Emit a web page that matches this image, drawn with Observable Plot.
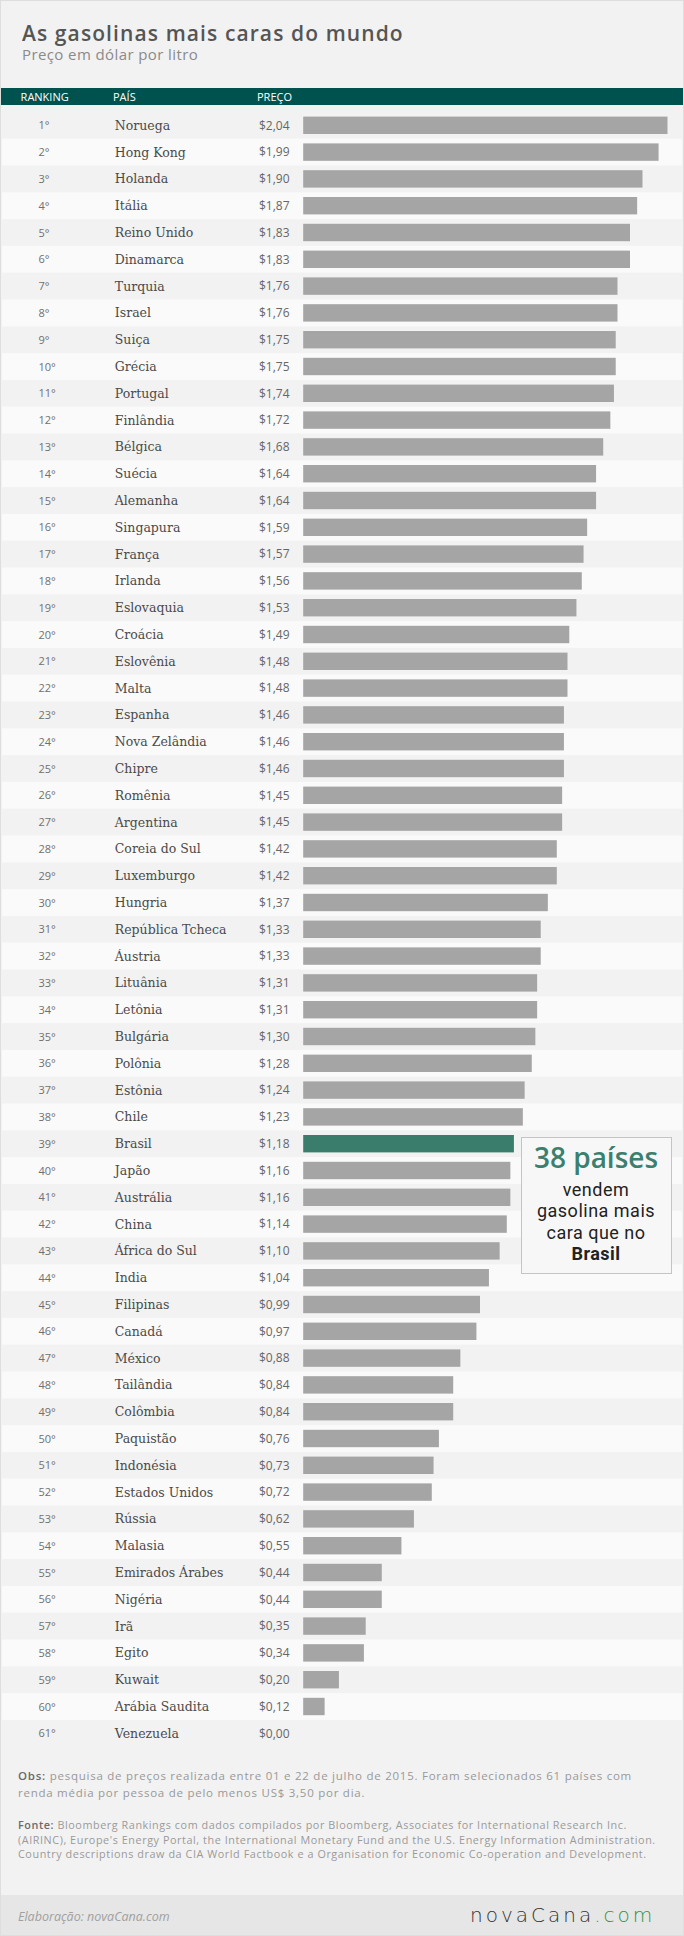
<!DOCTYPE html>
<html lang="pt">
<head>
<meta charset="utf-8">
<script src="https://cdn.jsdelivr.net/npm/d3@7"></script>
<script src="https://cdn.jsdelivr.net/npm/@observablehq/plot@0.6"></script>
<style>
  html, body { margin: 0; padding: 0; background: #f2f2f2; }
  #page { position: relative; width: 684px; height: 1936px; box-sizing: border-box;
          border: 1px solid #dedede; background: #f2f2f2; overflow: hidden;
          font-family: "Open Sans", sans-serif; }
  .abs { position: absolute; white-space: nowrap; }
  #title { left: 21px; top: 22px; font-size: 21px; line-height: 21px; font-weight: 600; color: #555; letter-spacing: 1.1px; }
  #subtitle { left: 21px; top: 46px; font-size: 15px; line-height: 15px; color: #8a8a8a; letter-spacing: 0.4px; }
  #header { left: 0; top: 87px; width: 682px; height: 17px; background: #00524f; }
  .hd { position: absolute; top: 2.5px; font-size: 11px; line-height: 11px; color: #fff; }
  #chart { position: absolute; left: 0; top: 104px; }
  #note { left: 519.5px; top: 1136px; width: 151px; height: 137px; box-sizing: border-box;
          border: 1px solid #c4c4c4; background: #f7f7f7; }
  .nl { position: absolute; left: 0; width: 149px; text-align: center; color: #222; }
  #obs { left: 17px; top: 1767px; font-size: 11.5px; line-height: 16.7px; color: #999; letter-spacing: 0.75px; }
  #fonte { left: 17px; top: 1817px; font-size: 10.8px; line-height: 14.6px; color: #9a9a9a; letter-spacing: 0.57px; }
  b.lab { color: #6a6a6a; font-weight: 600; }
  #foot { left: 0; top: 1894px; width: 682px; height: 42px; background: #e6e6e6; }
  #elab { left: 17px; top: 1908px; font-size: 12.5px; line-height: 16px; font-style: italic; color: #a0a0a0; }
  #logo { left: 469px; top: 1902px; font-family: "DejaVu Sans", sans-serif; font-weight: 200; font-size: 20px; line-height: 24px; letter-spacing: 3px; color: #333; }
  #logo span { color: #2a9448; }
</style>
</head>
<body>
<div id="page">
  <div id="title" class="abs">As gasolinas mais caras do mundo</div>
  <div id="subtitle" class="abs">Preço em dólar por litro</div>
  <div id="header" class="abs">
    <div class="hd" style="left:19.6px">RANKING</div>
    <div class="hd" style="left:112px">PAÍS</div>
    <div class="hd" style="left:256px">PREÇO</div>
  </div>
  <div id="chart"></div>
  <div id="note" class="abs">
    <div class="nl" style="top:5px;font-size:28px;line-height:28px;font-weight:600;color:#3d7f6e">38 países</div>
    <div class="nl" style="top:41.25px;font-family:Roboto,sans-serif;font-size:18px;line-height:21.2px;letter-spacing:0.5px">vendem<br>gasolina mais<br>cara que no<br><b style="font-weight:700">Brasil</b></div>
  </div>
  <div id="obs" class="abs"><b class="lab">Obs:</b> pesquisa de preços realizada entre 01 e 22 de julho de 2015. Foram selecionados 61 países com<br>renda média por pessoa de pelo menos US$ 3,50 por dia.</div>
  <div id="fonte" class="abs"><b class="lab">Fonte:</b> Bloomberg Rankings com dados compilados por Bloomberg, Associates for International Research Inc.<br>(AIRINC), Europe's Energy Portal, the International Monetary Fund and the U.S. Energy Information Administration.<br>Country descriptions draw da CIA World Factbook e a Organisation for Economic Co-operation and Development.</div>
  <div id="foot" class="abs"></div>
  <div id="elab" class="abs">Elaboração: novaCana.com</div>
  <div id="logo" class="abs">novaCana<span>.com</span></div>
</div>
<script>
const ranks = [1,2,3,4,5,6,7,8,9,10,11,12,13,14,15,16,17,18,19,20,21,22,23,24,25,26,27,28,29,30,
  31,32,33,34,35,36,37,38,39,40,41,42,43,44,45,46,47,48,49,50,51,52,53,54,55,56,57,58,59,60,61];
const countries = ["Noruega","Hong Kong","Holanda","Itália","Reino Unido","Dinamarca","Turquia","Israel","Suiça","Grécia",
  "Portugal","Finlândia","Bélgica","Suécia","Alemanha","Singapura","França","Irlanda","Eslovaquia","Croácia",
  "Eslovênia","Malta","Espanha","Nova Zelândia","Chipre","Romênia","Argentina","Coreia do Sul","Luxemburgo","Hungria",
  "República Tcheca","Áustria","Lituânia","Letônia","Bulgária","Polônia","Estônia","Chile","Brasil","Japão",
  "Austrália","China","África do Sul","India","Filipinas","Canadá","México","Tailândia","Colômbia","Paquistão",
  "Indonésia","Estados Unidos","Rússia","Malasia","Emirados Árabes","Nigéria","Irã","Egito","Kuwait","Arábia Saudita",
  "Venezuela"];
const prices = [2.04,1.99,1.90,1.87,1.83,1.83,1.76,1.76,1.75,1.75,
  1.74,1.72,1.68,1.64,1.64,1.59,1.57,1.56,1.53,1.49,
  1.48,1.48,1.46,1.46,1.46,1.45,1.45,1.42,1.42,1.37,
  1.33,1.33,1.31,1.31,1.30,1.28,1.24,1.23,1.18,1.16,
  1.16,1.14,1.10,1.04,0.99,0.97,0.88,0.84,0.84,0.76,
  0.73,0.72,0.62,0.55,0.44,0.44,0.35,0.34,0.20,0.12,
  0.00];
const highlight = "Brasil";

const rows = countries.map((c, i) => ({rank: ranks[i], country: c, price: prices[i]}));
const stripes = rows.filter((d, i) => i % 2 === 1);
const fmtPrice = v => "$" + v.toFixed(2).replace(".", ",");

const chart = Plot.plot({
  width: 682,
  height: 1652,
  marginTop: 0, marginBottom: 0, marginLeft: 1, marginRight: 1,
  x: {domain: [0, 2.04], range: [302.2, 666.5], axis: null},
  y: {type: "band", domain: countries, range: [6.9, 1641.7], padding: 0, round: false, axis: null},
  color: {type: "identity"},
  style: {background: "transparent", overflow: "visible"},
  marks: [
    Plot.cell(stripes, {y: "country", fill: "#fafafa"}),
    Plot.barX(rows, {x: "price", y: "country", insetTop: 4.7, insetBottom: 4.7,
      fill: d => d.country === highlight ? "#3b7d6d" : "#a5a5a5"}),
    Plot.text(rows, {y: "country", text: d => d.rank + "°", frameAnchor: "left", dx: 36, textAnchor: "start",
      fontFamily: "Open Sans", fontSize: 11, fill: "#707070"}),
    Plot.text(rows, {y: "country", text: "country", frameAnchor: "left", dx: 112.3, textAnchor: "start",
      fontFamily: "DejaVu Serif", fontSize: 12.5, fill: "#4a4a4a"}),
    Plot.text(rows, {x: 0, y: "country", text: d => fmtPrice(d.price), textAnchor: "end", dx: -14.2,
      fontFamily: "Open Sans", fontSize: 12, fill: "#666"})
  ]
});
document.getElementById("chart").appendChild(chart);
</script>
</body>
</html>
